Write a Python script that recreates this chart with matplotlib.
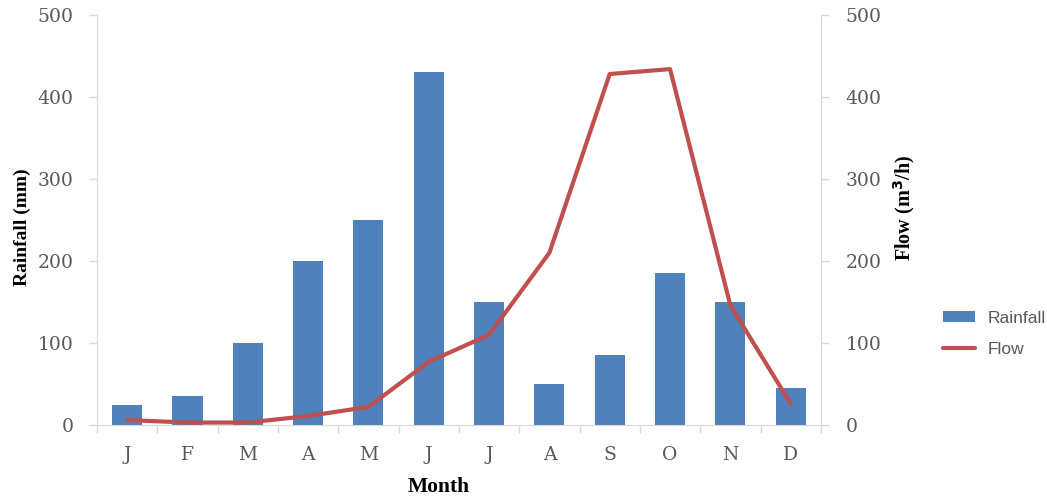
import matplotlib
matplotlib.use("Agg")
import matplotlib.pyplot as plt
import numpy as np
from matplotlib.ticker import FixedLocator

months = ["J", "F", "M", "A", "M", "J", "J", "A", "S", "O", "N", "D"]
rainfall = [24, 35, 100, 200, 250, 430, 150, 50, 85, 185, 150, 45]
flow = [6, 3, 3, 11, 22, 77, 110, 210, 428, 434, 146, 26]
yticks = [0, 100, 200, 300, 400, 500]

bar_color = "#4F81BD"
line_color = "#C0504D"
grid_grey = "#D9D9D9"
text_grey = "#595959"

fig = plt.figure(figsize=(10.47, 4.99), dpi=100)
ax = fig.add_axes([0.0926, 0.1483, 0.6914, 0.8217])
ax2 = ax.twinx()

x = np.arange(len(months))
ax.bar(x, rainfall, width=0.5, color=bar_color, label="Rainfall", zorder=2)
ax2.plot(x, flow, color=line_color, lw=3, label="Flow", zorder=3, solid_capstyle="round")

for a in (ax, ax2):
    a.set_ylim(0, 500)
    a.set_xlim(-0.5, len(months) - 0.5)
    for s in a.spines.values():
        s.set_visible(False)

ax.spines["left"].set_visible(True)
ax.spines["left"].set_color(grid_grey)
ax.spines["bottom"].set_visible(True)
ax.spines["bottom"].set_color(grid_grey)
ax2.spines["right"].set_visible(True)
ax2.spines["right"].set_color(grid_grey)

serif = "DejaVu Serif"
tserif = "Liberation Serif"
ax.set_yticks(yticks)
ax2.set_yticks(yticks)
ax.tick_params(axis="y", colors=grid_grey, labelcolor=text_grey, length=6, width=1, pad=11)
ax2.tick_params(axis="y", colors=grid_grey, labelcolor=text_grey, length=6, width=1, pad=12)
for lab in ax.get_yticklabels() + ax2.get_yticklabels():
    lab.set_fontfamily(serif)
    lab.set_fontsize(13.5)

ax.set_xticks(x)
ax.set_xticklabels(months, fontfamily=serif, fontsize=13.5, color=text_grey)
ax.tick_params(axis="x", which="major", length=0, pad=15)
ax.xaxis.set_minor_locator(FixedLocator(np.arange(-0.5, len(months), 1.0)))
ax.tick_params(axis="x", which="minor", length=6, color=grid_grey, width=1)

fig.text(22 / 1047, 1 - 227 / 499, "Rainfall (mm)", rotation=90, ha="center", va="center",
         fontfamily=tserif, fontweight="bold", fontsize=14)
fig.text(904 / 1047, 1 - 208 / 499, "Flow (m$^\\mathbf{3}$/h)", rotation=90, ha="center", va="center",
         fontfamily=tserif, fontweight="bold", fontsize=14.5)
fig.text(439 / 1047, 1 - 487 / 499, "Month", ha="center", va="center",
         fontfamily=tserif, fontweight="bold", fontsize=15.5)

h1, l1 = ax.get_legend_handles_labels()
h2, l2 = ax2.get_legend_handles_labels()
leg = fig.legend(h1 + h2, l1 + l2, loc="center left", bbox_to_anchor=(943 / 1047, 1 - 334 / 499),
                 frameon=False, prop={"family": "Liberation Sans", "size": 12.5},
                 borderpad=0, borderaxespad=0,
                 handlelength=1.85, handleheight=0.6, handletextpad=0.7, labelspacing=0.95)
for t in leg.get_texts():
    t.set_color(text_grey)

ax2.set_zorder(ax.get_zorder() + 1)
fig.savefig("out.png", dpi=100)
